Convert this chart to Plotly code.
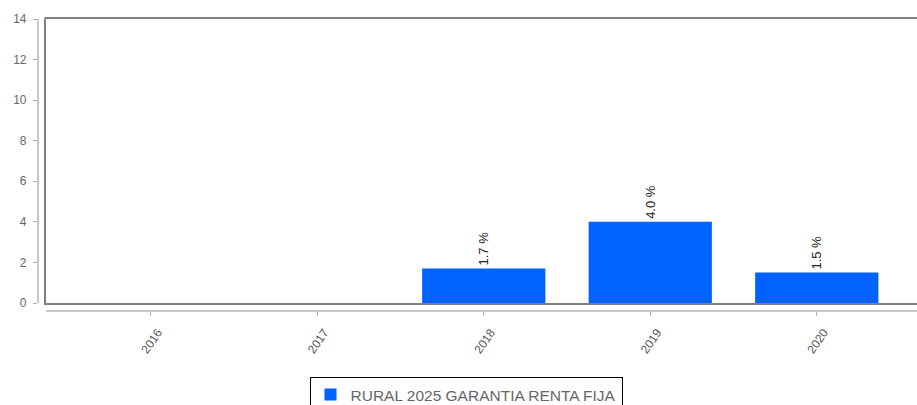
import plotly.graph_objects as go

categories = ["2016", "2017", "2018", "2019", "2020"]
values = [None, None, 1.7, 4.0, 1.5]
series_name = "RURAL 2025 GARANTIA RENTA FIJA"
y_ticks = [0, 2, 4, 6, 8, 10, 12, 14]

W, H = 917, 405
labels = ["" if v is None else f"{v:.1f} %" for v in values]
idx = list(range(len(categories)))

fig = go.Figure()
fig.add_trace(go.Bar(
    x=idx, y=values, name=series_name,
    marker=dict(color="#0062ff", line=dict(width=0)),
    width=0.74,
    text=labels, textposition="outside", textangle=-90,
    textfont=dict(family="Liberation Sans, Arial", size=13, color="#222222"),
    cliponaxis=False,
    showlegend=True,
))
# empty helper trace so the offset axes are drawn
fig.add_trace(go.Scatter(x=[None], y=[None], xaxis="x2", yaxis="y2",
                         mode="markers", showlegend=False, hoverinfo="skip"))

x0 = 45.5 / W
y_bot = 1 - 303 / H
y_top = 1 - 19 / H
xr = [-0.632, 4.602]
yr = [0, 14]

fig.update_layout(
    width=W, height=H,
    margin=dict(l=0, r=0, t=0, b=0, autoexpand=False),
    template="none",
    paper_bgcolor="white", plot_bgcolor="white",
    showlegend=True,
    font=dict(family="Liberation Sans, Arial", size=12, color="#666666"),
    xaxis=dict(domain=[x0, 1], range=xr, showgrid=False, zeroline=False,
               showline=True, mirror=False, linecolor="#808080", linewidth=2,
               ticks="", showticklabels=False, fixedrange=True),
    yaxis=dict(domain=[y_bot, y_top], range=yr, showgrid=False, zeroline=False,
               showline=True, mirror=False, linecolor="#808080", linewidth=2,
               ticks="", showticklabels=False),
    xaxis2=dict(overlaying="x", anchor="free", position=1 - 311 / H, side="bottom",
                range=xr, showgrid=False, zeroline=False,
                showline=True, linecolor="#c8c8c8", linewidth=1.5,
                ticks="outside", ticklen=4, tickcolor="#b0b0b0", tickwidth=1,
                tickvals=idx, ticktext=categories, tickangle=-55,
                ticklabelshift=7, ticklabelstandoff=5,
                tickfont=dict(family="Liberation Sans, Arial", size=12, color="#555555")),
    yaxis2=dict(overlaying="y", anchor="free", position=37.7 / W, side="left",
                range=yr, showgrid=False, zeroline=False,
                showline=True, linecolor="#c8c8c8", linewidth=1.5,
                ticks="outside", ticklen=4, tickcolor="#b0b0b0", tickwidth=1,
                tickvals=y_ticks, ticklabelstandoff=4,
                tickfont=dict(family="Liberation Sans, Arial", size=12, color="#666666")),
    legend=dict(orientation="h", x=466 / W, xanchor="center", y=1 - 377 / H, yanchor="top",
                bgcolor="white", bordercolor="#000000", borderwidth=1,
                font=dict(family="Liberation Sans, Arial", size=15.5, color="#666666")),
    bargap=0.26,
    shapes=[dict(type="line", xref="paper", yref="paper", x0=x0 - 1 / W, x1=1.01,
                 y0=y_top + 1 / H, y1=y_top + 1 / H,
                 line=dict(color="#808080", width=2), layer="above")],
)

fig.write_html("out.html", config={"displayModeBar": False},
               post_script="document.body.style.margin='0';document.body.style.overflow='hidden';")
